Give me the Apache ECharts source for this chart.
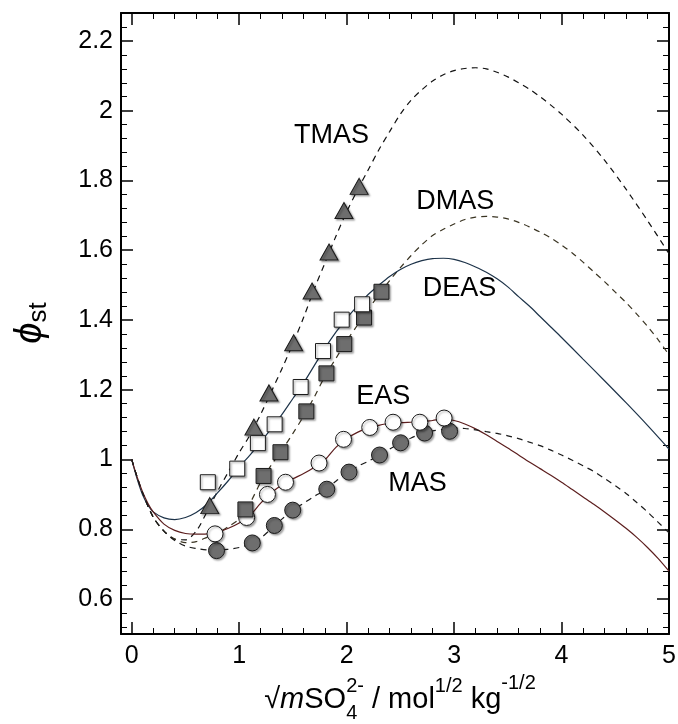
<!DOCTYPE html>
<html>
<head>
<meta charset="utf-8">
<script src="https://cdn.jsdelivr.net/npm/echarts@6/dist/echarts.min.js"></script>
<style>
  html, body { margin: 0; padding: 0; background: #fff; }
  #chart { width: 678px; height: 724px; }
</style>
</head>
<body>
<div id="chart"></div>
<script>
// model curves
const tmasCurve = [[0,1.0],[0.05,0.95],[0.1,0.905],[0.2,0.835],[0.3,0.795],[0.4,0.772],[0.5,0.77],[0.6,0.795],[0.7,0.85],[0.8,0.91],[0.9,0.965],[1.0,1.02],[1.1,1.07],[1.2,1.13],[1.3,1.195],[1.4,1.262],[1.5,1.332],[1.6,1.408],[1.7,1.49],[1.8,1.565],[1.9,1.64],[2.0,1.71],[2.1,1.772],[2.2,1.83],[2.3,1.888],[2.4,1.94],[2.5,1.99],[2.6,2.03],[2.7,2.06],[2.8,2.085],[2.9,2.103],[3.0,2.115],[3.1,2.121],[3.2,2.123],[3.3,2.12],[3.4,2.11],[3.5,2.097],[3.6,2.08],[3.7,2.062],[3.8,2.04],[3.9,2.016],[4.0,1.99],[4.2,1.93],[4.4,1.858],[4.6,1.775],[4.8,1.685],[5.0,1.59]];
const dmasCurve = [[0,1.0],[0.05,0.95],[0.1,0.905],[0.2,0.835],[0.3,0.795],[0.4,0.772],[0.5,0.762],[0.6,0.765],[0.7,0.777],[0.8,0.79],[0.9,0.808],[1.0,0.83],[1.1,0.875],[1.2,0.935],[1.3,0.985],[1.4,1.028],[1.5,1.075],[1.6,1.125],[1.7,1.18],[1.8,1.24],[1.9,1.29],[2.0,1.34],[2.1,1.385],[2.2,1.43],[2.3,1.472],[2.4,1.513],[2.5,1.55],[2.6,1.585],[2.7,1.616],[2.8,1.642],[2.9,1.66],[3.0,1.675],[3.1,1.688],[3.2,1.695],[3.3,1.697],[3.4,1.695],[3.5,1.69],[3.6,1.68],[3.7,1.667],[3.8,1.652],[3.9,1.635],[4.0,1.615],[4.1,1.592],[4.2,1.566],[4.3,1.538],[4.4,1.51],[4.5,1.48],[4.6,1.45],[4.7,1.417],[4.8,1.382],[4.9,1.343],[5.0,1.30]];
const deasCurve = [[0,1.0],[0.05,0.945],[0.1,0.9],[0.15,0.87],[0.2,0.85],[0.3,0.833],[0.4,0.828],[0.5,0.834],[0.6,0.848],[0.7,0.872],[0.8,0.905],[0.9,0.94],[1.0,0.978],[1.1,1.013],[1.2,1.05],[1.3,1.09],[1.4,1.13],[1.5,1.175],[1.6,1.22],[1.7,1.27],[1.8,1.32],[1.9,1.365],[2.0,1.405],[2.1,1.44],[2.2,1.473],[2.3,1.5],[2.4,1.525],[2.5,1.545],[2.6,1.56],[2.7,1.57],[2.8,1.576],[2.9,1.577],[3.0,1.574],[3.1,1.565],[3.2,1.552],[3.3,1.537],[3.4,1.518],[3.5,1.495],[3.6,1.467],[3.7,1.44],[3.8,1.41],[3.9,1.38],[4.0,1.35],[4.2,1.288],[4.4,1.226],[4.6,1.163],[4.8,1.098],[5.0,1.03]];
const easCurve = [[0,1.0],[0.05,0.95],[0.1,0.908],[0.15,0.875],[0.2,0.85],[0.3,0.815],[0.4,0.797],[0.5,0.788],[0.6,0.786],[0.7,0.787],[0.8,0.792],[0.9,0.803],[1.0,0.818],[1.1,0.84],[1.2,0.875],[1.3,0.905],[1.4,0.928],[1.5,0.945],[1.6,0.96],[1.7,0.978],[1.8,1.0],[1.9,1.035],[2.0,1.06],[2.1,1.078],[2.2,1.09],[2.3,1.098],[2.4,1.104],[2.5,1.106],[2.6,1.107],[2.7,1.108],[2.8,1.112],[2.9,1.116],[3.0,1.112],[3.1,1.102],[3.2,1.088],[3.3,1.071],[3.4,1.052],[3.5,1.033],[3.6,1.013],[3.7,0.993],[3.8,0.974],[3.9,0.955],[4.0,0.935],[4.1,0.914],[4.2,0.893],[4.3,0.872],[4.4,0.85],[4.5,0.827],[4.6,0.803],[4.7,0.777],[4.8,0.748],[4.9,0.716],[5.0,0.68]];
const masCurve = [[0,1.0],[0.05,0.95],[0.1,0.905],[0.2,0.835],[0.3,0.795],[0.4,0.768],[0.5,0.752],[0.6,0.745],[0.7,0.741],[0.8,0.74],[0.9,0.743],[1.0,0.748],[1.1,0.758],[1.2,0.775],[1.3,0.802],[1.4,0.83],[1.5,0.855],[1.6,0.875],[1.7,0.895],[1.8,0.912],[1.9,0.938],[2.0,0.96],[2.1,0.98],[2.2,0.995],[2.3,1.012],[2.4,1.03],[2.5,1.047],[2.6,1.062],[2.7,1.074],[2.8,1.082],[2.9,1.087],[3.0,1.09],[3.1,1.089],[3.2,1.085],[3.3,1.08],[3.4,1.075],[3.5,1.068],[3.6,1.06],[3.7,1.05],[3.8,1.04],[3.9,1.027],[4.0,1.013],[4.1,0.998],[4.2,0.982],[4.3,0.966],[4.4,0.946],[4.5,0.925],[4.6,0.903],[4.7,0.877],[4.8,0.85],[4.9,0.82],[5.0,0.79]];

// experimental points
const tmasPts = [[0.726,0.868],[1.137,1.093],[1.277,1.191],[1.507,1.335],[1.678,1.483],[1.836,1.595],[1.975,1.714],[2.116,1.783]];
const deasPts = [[0.708,0.935],[0.982,0.974],[1.174,1.047],[1.330,1.101],[1.572,1.208],[1.780,1.311],[1.954,1.401],[2.144,1.445]];
const dmasPts = [[1.058,0.857],[1.227,0.953],[1.384,1.021],[1.625,1.138],[1.812,1.247],[1.978,1.331],[2.162,1.407],[2.324,1.481]];
const easPts = [[0.775,0.787],[1.069,0.834],[1.263,0.900],[1.431,0.935],[1.743,0.990],[1.971,1.058],[2.215,1.092],[2.432,1.107],[2.681,1.107],[2.907,1.119]];
const masPts = [[0.789,0.739],[1.122,0.761],[1.327,0.811],[1.498,0.855],[1.815,0.915],[2.022,0.964],[2.306,1.013],[2.502,1.048],[2.725,1.076],[2.958,1.081]];

// curve names and where they sit
const curveNames = ['TMAS', 'DMAS', 'DEAS', 'EAS', 'MAS'];
const namePos = [[1.86,1.93],[3.01,1.74],[3.05,1.49],[2.34,1.18],[2.66,0.93]];

// ticks
const xMajor = [0, 1, 2, 3, 4, 5];
const yMajor = [0.6, 0.8, 1, 1.2, 1.4, 1.6, 1.8, 2, 2.2];
const xRange = [-0.1, 5];
const yRange = [0.5, 2.28];

function minorList(lo, hi, step, majors) {
  const out = [];
  for (let v = lo; v <= hi + 1e-9; v += step) {
    const r = Math.round(v * 100) / 100;
    if (!majors.some(m => Math.abs(m - r) < 1e-6)) out.push(r);
  }
  return out;
}
const xMinor = minorList(0.2, 4.8, 0.2, xMajor);
const yMinor = minorList(0.52, 2.24, 0.04, yMajor);

const FONT = "'Liberation Sans', Arial, sans-serif";

function tickAxis(pos, range, values, len, width, showLine, showLabel) {
  return {
    type: 'value',
    position: pos,
    min: range[0],
    max: range[1],
    axisLine: { show: showLine, onZero: false, lineStyle: { color: '#000', width: 2 } },
    axisTick: { show: true, inside: true, length: len, customValues: values, lineStyle: { color: '#000', width: width } },
    axisLabel: {
      show: showLabel, customValues: values, color: '#000', fontSize: 25, fontFamily: FONT,
      margin: (pos === 'bottom') ? 10 : 8
    },
    splitLine: { show: false }
  };
}

const xAxes = [
  tickAxis('bottom', xRange, xMajor, 12, 1.5, true, true),
  tickAxis('bottom', xRange, xMinor, 6, 1, false, false),
  tickAxis('top', xRange, xMajor, 12, 1.5, true, false),
  tickAxis('top', xRange, xMinor, 6, 1, false, false)
];
const yAxes = [
  tickAxis('left', yRange, yMajor, 12, 1.5, true, true),
  tickAxis('left', yRange, yMinor, 6, 1, false, false),
  tickAxis('right', yRange, yMajor, 12, 1.5, true, false),
  tickAxis('right', yRange, yMinor, 6, 1, false, false)
];

function curve(data, color, dashed) {
  return {
    type: 'line', data: data, showSymbol: false, smooth: 0.3, silent: true, z: 2,
    lineStyle: { color: color, width: 1.2, type: dashed ? [6, 5] : 'solid' }
  };
}

function markers(data, symbol, size, filled) {
  return {
    type: 'scatter', data: data, symbol: symbol, symbolSize: size, z: 3, silent: true,
    itemStyle: {
      color: filled ? '#6e6e6e' : '#fff', opacity: 1, borderColor: '#1a1a1a', borderWidth: 1,
      shadowColor: 'rgba(0,0,0,0.35)', shadowBlur: 2, shadowOffsetX: 1.5, shadowOffsetY: 1.5
    }
  };
}

// axis title pieces laid out with measured widths
const measureCtx = document.createElement('canvas').getContext('2d');
function layoutPieces(pieces, cx, baseMid) {
  let total = 0;
  const widths = pieces.map(p => {
    measureCtx.font = p.font;
    return measureCtx.measureText(p.text).width;
  });
  // stacked pieces don't advance
  pieces.forEach((p, i) => { if (!p.stack) total += widths[i]; });
  let x = cx - total / 2;
  const els = [];
  pieces.forEach((p, i) => {
    els.push({
      type: 'text', x: x, y: baseMid + p.dy, silent: true,
      style: { text: p.text, font: p.font, fill: '#000', textAlign: 'left', textVerticalAlign: 'middle', align: 'left', verticalAlign: 'middle' }
    });
    if (!p.stack) x += widths[i];
  });
  return els;
}

const big = '29px ' + FONT;
const bigI = 'italic 29px ' + FONT;
const small = '20px ' + FONT;
const xTitle = layoutPieces([
  { text: '\u221A', font: big, dy: 0 },
  { text: 'm', font: bigI, dy: 0 },
  { text: 'SO', font: big, dy: 0 },
  { text: '4', font: small, dy: 13, stack: true },
  { text: '2-', font: small, dy: -14 },
  { text: ' / mol', font: big, dy: 0 },
  { text: '1/2', font: small, dy: -14 },
  { text: ' kg', font: big, dy: 0 },
  { text: '-1/2', font: small, dy: -17 }
], 400, 700);

const yTitle = {
  type: 'group', x: 30, y: 323, rotation: Math.PI / 2, silent: true,
  children: layoutPieces([
    { text: '\u03D5', font: 'italic 38px ' + FONT, dy: 0 },
    { text: 'st', font: '26px ' + FONT, dy: 9 }
  ], 0, 0)
};

const chart = echarts.init(document.getElementById('chart'));
chart.setOption({
  animation: false,
  backgroundColor: '#fff',
  grid: { left: 121, right: 9, top: 13, bottom: 90, containLabel: false, outerBoundsMode: 'none' },
  xAxis: xAxes,
  yAxis: yAxes,
  graphic: { elements: xTitle.concat([yTitle]) },
  series: [
    curve(tmasCurve, '#111', true),
    curve(dmasCurve, '#3a3422', true),
    curve(deasCurve, '#1d3349', false),
    curve(easCurve, '#5c1e1e', false),
    curve(masCurve, '#1a1a1a', true),
    markers(masPts, 'circle', 16, true),
    markers(easPts, 'circle', 16, false),
    markers(dmasPts, 'rect', 15, true),
    markers(tmasPts, 'triangle', [18, 16], true),
    markers(deasPts, 'rect', 15, false),
    {
      type: 'scatter', silent: true, z: 4, symbolSize: 1,
      itemStyle: { color: 'rgba(0,0,0,0)', opacity: 1 },
      data: curveNames.map((n, i) => ({ name: n, value: namePos[i] })),
      label: { show: true, position: 'inside', formatter: '{b}', color: '#000', fontSize: 27, fontFamily: FONT, opacity: 1 }
    }
  ]
});
</script>
</body>
</html>
